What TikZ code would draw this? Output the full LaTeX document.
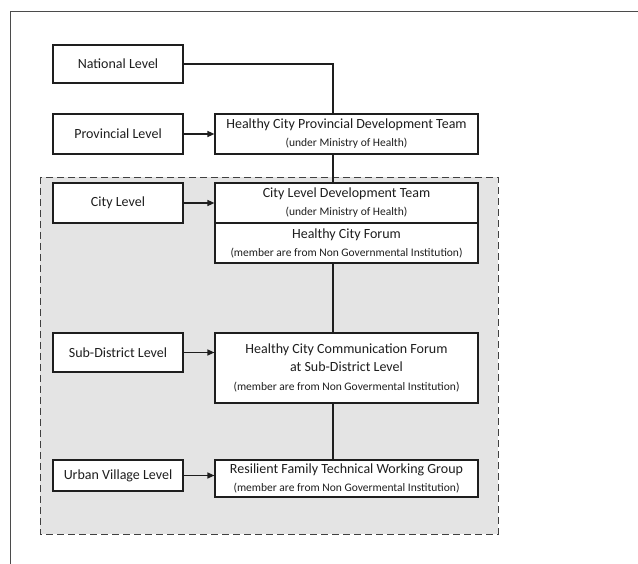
\documentclass[tikz,border=0pt]{standalone}
\usepackage{fontspec}
\setmainfont{Carlito}
\usetikzlibrary{arrows.meta}
\definecolor{inkc}{HTML}{1E1E1E}
\definecolor{zonefill}{HTML}{E4E4E4}
\newcommand\notefont{\fontsize{11.5}{13}\selectfont}
\begin{document}
\begin{tikzpicture}[x=1pt,y=-1pt,
  lvlbox/.style={draw=inkc, line width=1.2pt, fill=white, text=inkc,
    minimum width=130pt, inner sep=0pt, font=\fontsize{14}{16}\selectfont},
  teambox/.style={draw=inkc, line width=1.2pt, fill=white, text=inkc,
    minimum width=263pt, inner sep=0pt, align=center,
    font=\fontsize{14}{17}\selectfont},
  link/.style={draw=inkc, line width=1.2pt},
  feed/.style={link, -{Triangle[length=7pt,width=6pt]}}]
\useasboundingbox (0,0) rectangle (638,564);
% page frame edges
\draw[draw=inkc!80, line width=1pt] (10,564) -- (10,12) -- (638,12);
% local-level zone
\draw[draw=inkc!85, line width=0.9pt, fill=zonefill,
  dash pattern=on 7pt off 4pt] (40,177) rectangle (498,534);
\coordinate (spine) at (333,0);
% level boxes
\node[lvlbox, minimum height=38pt] (nat) at (118,64) {National Level};
\node[lvlbox, minimum height=40pt] (prov) at (118,134) {Provincial Level};
\node[lvlbox, minimum height=40pt] (city) at (118,203) {City Level};
\node[lvlbox, minimum height=39pt] (subd) at (118,352.5) {Sub-District Level};
\node[lvlbox, minimum height=31pt] (urb) at (118,475.5) {Urban Village Level};
% organisation boxes
\node[teambox, minimum height=40pt] (pteam) at (346.5,134)
  {Healthy City Provincial Development Team\\[1pt]{\notefont (under Ministry of Health)}};
\node[teambox, minimum height=40pt] (cteam) at (346.5,203)
  {City Level Development Team\\[1pt]{\notefont (under Ministry of Health)}};
\node[teambox, minimum height=40pt] (forum) at (346.5,243)
  {Healthy City Forum\\[1pt]{\notefont (member are from Non Governmental Institution)}};
\node[teambox, minimum height=70pt] (comm) at (346.5,368)
  {Healthy City Communication Forum\\[1pt]at Sub-District Level\\[2pt]{\notefont (member are from Non Govermental Institution)}};
\node[teambox, minimum height=37pt] (resil) at (346.5,478.5)
  {Resilient Family Technical Working Group\\[1pt]{\notefont (member are from Non Govermental Institution)}};
% hierarchy line
\draw[link] (nat.east) -| (pteam.north -| spine);
\draw[link] (pteam.south -| spine) -- (cteam.north -| spine);
\draw[link] (forum.south -| spine) -- (comm.north -| spine);
\draw[link] (comm.south -| spine) -- (resil.north -| spine);
% level arrows
\draw[feed] (prov.east) -- (pteam.west);
\draw[feed] (city.east) -- (cteam.west);
\draw[feed] (subd.east) -- (subd.east -| comm.west);
\draw[feed] (urb.east) -- (urb.east -| resil.west);
\end{tikzpicture}
\end{document}
